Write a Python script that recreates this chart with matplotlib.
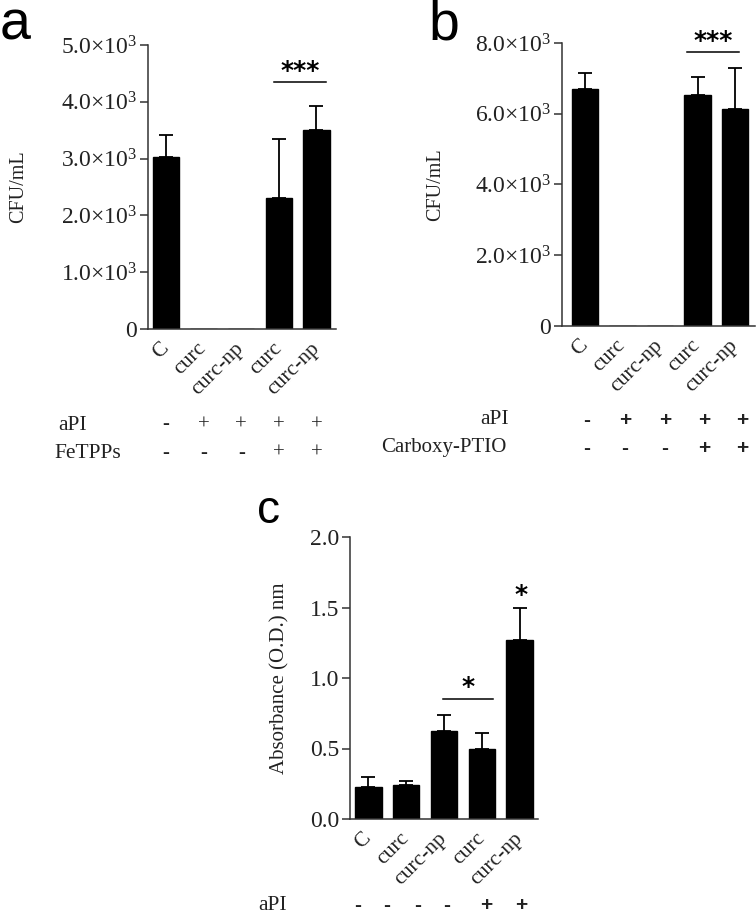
import matplotlib
matplotlib.use("Agg")
import matplotlib.pyplot as plt
import matplotlib.transforms as mtransforms
import numpy as np

plt.rcParams["mathtext.fontset"] = "custom"
plt.rcParams["mathtext.rm"] = "Liberation Serif"
plt.rcParams["mathtext.it"] = "Liberation Serif:italic"
plt.rcParams["mathtext.bf"] = "Liberation Serif:bold"

# groups on the x axis (same for all three panels)
groups = ["C", "curc", "curc-np", "curc", "curc-np"]

# panel a: CFU/mL with FeTPPs
cfu_fetpps = [3030, 0, 0, 2300, 3500]
cfu_fetpps_err = [390, 0, 0, 1050, 430]
# panel b: CFU/mL with Carboxy-PTIO
cfu_ptio = [6710, 0, 0, 6540, 6140]
cfu_ptio_err = [430, 0, 0, 500, 1160]
# panel c: absorbance
absorb = [0.23, 0.238, 0.623, 0.50, 1.269]
absorb_err = [0.067, 0.028, 0.113, 0.109, 0.224]

# treatment rows under the panels
api_a = ["-", "+", "+", "+", "+"]
fetpps = ["-", "-", "-", "+", "+"]
api_b = ["-", "+", "+", "+", "+"]
ptio = ["-", "-", "-", "+", "+"]
api_c = ["-", "-", "-", "-", "+", "+"]

yticks_a = [0, 1000, 2000, 3000, 4000, 5000]
ytlab_a = ["0"] + ["%.1f$\\times$10$^3$" % v for v in [1, 2, 3, 4, 5]]
yticks_b = [0, 2000, 4000, 6000, 8000]
ytlab_b = ["0"] + ["%.1f$\\times$10$^3$" % v for v in [2, 4, 6, 8]]
yticks_c = [0, 0.5, 1.0, 1.5, 2.0]
ytlab_c = ["0.0", "0.5", "1.0", "1.5", "2.0"]

SERIF = "Liberation Serif"
SANS = "Liberation Sans"
TXT = "#222222"

fig = plt.figure(figsize=(7.56, 9.17), dpi=100)
W, H = 756.0, 917.0


def px_axes(l, t, r, b):
    return fig.add_axes([l / W, 1 - b / H, (r - l) / W, (b - t) / H])


def style(ax, yt, ytl, ymax, xlim, label, lab_x, lab_size):
    x = np.arange(len(groups))
    ax.set_xlim(*xlim)
    ax.set_ylim(0, ymax)
    ax.set_yticks(yt)
    ax.set_yticklabels(ytl, family=SERIF, fontsize=17, color=TXT)
    ax.set_xticks(x)
    ax.set_xticklabels(groups, family=SERIF, fontsize=15.5, color=TXT,
                       rotation=45, ha="right", va="center",
                       rotation_mode="anchor")
    ax.tick_params(axis="x", length=0, pad=12)
    ax.tick_params(axis="y", length=6, width=1.1, pad=2, color="#333333")
    for s in ["top", "right"]:
        ax.spines[s].set_visible(False)
    for s in ["left", "bottom"]:
        ax.spines[s].set_linewidth(1.1)
        ax.spines[s].set_color("#333333")
    ax.set_ylabel(label, family=SERIF, fontsize=lab_size, color=TXT)
    ax.yaxis.set_label_coords(lab_x, 0.5)


def bars(ax, vals, errs):
    x = np.arange(len(groups))
    v = np.array(vals, dtype=float)
    e = np.array(errs, dtype=float)
    ax.bar(x, v, width=0.7, color="black", edgecolor="black")
    m = v > 0
    ax.errorbar(x[m], v[m], yerr=[np.zeros(m.sum()), e[m]], fmt="none",
                ecolor="black", elinewidth=1.3, capsize=5, capthick=1.3)


def sign_row(ax, xs, signs, y, bold, family):
    tr = mtransforms.blended_transform_factory(ax.transData, ax.transAxes)
    for xx, s in zip(xs, signs):
        ax.text(xx, y, s, transform=tr, ha="center", va="center",
                fontsize=15, family=family, color=TXT,
                fontweight="bold" if bold else "normal", clip_on=False)


# ---------------- panel a
ax_a = px_axes(148, 45, 336, 329)
bars(ax_a, cfu_fetpps, cfu_fetpps_err)
style(ax_a, yticks_a, ytlab_a, 5000, (-0.48, 4.52), "CFU/mL", -0.64, 14.5)
ax_a.plot([2.87, 4.26], [4340, 4340], color="black", lw=1.1)
ax_a.text(3.56, 4330, "***", ha="center", va="bottom", fontsize=18,
          fontweight="bold", family="DejaVu Sans")
sign_row(ax_a, range(5), api_a, -0.338, False, SERIF)
sign_row(ax_a, range(5), fetpps, -0.437, False, SERIF)
fig.text(58 / W, 1 - 425 / H, "aPI", family=SERIF, fontsize=15.5, color=TXT,
         va="center", ha="left")
fig.text(54 / W, 1 - 453 / H, "FeTPPs", family=SERIF, fontsize=15.5,
         color=TXT, va="center", ha="left")
fig.text(0.0, 1 - 40 / H, "a", family=SANS, fontsize=40, va="baseline")

# ---------------- panel b
ax_b = px_axes(562, 43, 755, 326)
bars(ax_b, cfu_ptio, cfu_ptio_err)
style(ax_b, yticks_b, ytlab_b, 8000, (-0.61, 4.53), "CFU/mL", -0.605, 14.5)
ax_b.plot([2.72, 4.11], [7740, 7740], color="black", lw=1.1, clip_on=False)
ax_b.text(3.41, 7730, "***", ha="center", va="bottom", fontsize=18,
          fontweight="bold", family="DejaVu Sans", clip_on=False)
sign_pos_b = [0.05, 1.07, 2.13, 3.17, 4.19]
sign_row(ax_b, sign_pos_b, api_b, -0.3325, True, SANS)
sign_row(ax_b, sign_pos_b, ptio, -0.4315, True, SANS)
fig.text(509 / W, 1 - 420 / H, "aPI", family=SERIF, fontsize=15.5, color=TXT,
         va="center", ha="right")
fig.text(507 / W, 1 - 448 / H, "Carboxy-PTIO", family=SERIF, fontsize=15,
         color=TXT, va="center", ha="right")
fig.text(428 / W, 1 - 40 / H, "b", family=SANS, fontsize=40, va="baseline")

# ---------------- panel c
ax_c = px_axes(350, 537, 538, 819)
bars(ax_c, absorb, absorb_err)
style(ax_c, yticks_c, ytlab_c, 2.0, (-0.49, 4.49), "Absorbance (O.D.) nm",
      -0.32, 15)
ax_c.plot([1.97, 3.31], [0.854, 0.854], color="black", lw=1.1)
ax_c.text(2.64, 0.85, "*", ha="center", va="bottom", fontsize=18,
          fontweight="bold", family="DejaVu Sans")
ax_c.text(4.04, 1.50, "*", ha="center", va="bottom", fontsize=18,
          fontweight="bold", family="DejaVu Sans")
sign_pos_c = [-0.29, 0.48, 1.31, 2.08, 3.12, 4.04]
sign_row(ax_c, sign_pos_c, api_c, -0.305, True, SANS)
fig.text(258 / W, 1 - 905 / H, "aPI", family=SERIF, fontsize=15.5, color=TXT,
         va="center", ha="left")
fig.text(257 / W, 1 - 523 / H, "c", family=SANS, fontsize=33, va="baseline")

fig.savefig("out.png", dpi=100)
